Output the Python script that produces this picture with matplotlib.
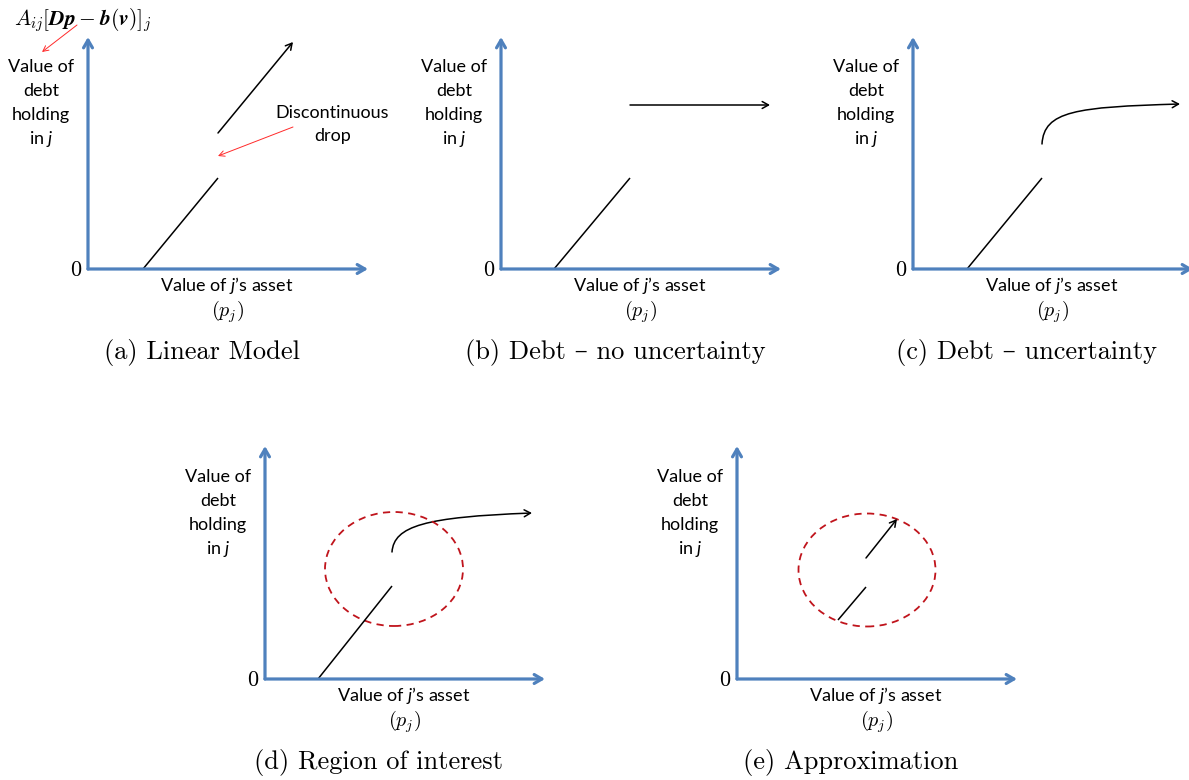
import matplotlib
matplotlib.use("Agg")
import matplotlib.pyplot as plt
from matplotlib.patches import FancyArrowPatch, Ellipse
from matplotlib.path import Path
from matplotlib.transforms import Affine2D, IdentityTransform

# ---------------- data (local units, origin = corner of each small plot, y up) ----
captions = ["(a) Linear Model", "(b) Debt \u2013 no uncertainty", "(c) Debt \u2013 uncertainty",
            "(d) Region of interest", "(e) Approximation"]
ylabel_lines = ["Value of", "debt", "holding", "in $j$"]
xlabel_line1 = "Value of $j$\u2019s asset"
xlabel_line2 = r"$(p_j)$"
zero_label = "0"
formula = r"$A_{ij}[\mathbfit{Dp}-\mathbfit{b}(\mathbfit{v})]_j$"
drop_lines = ["Discontinuous", "drop"]

# axis extents (x length, y length)
axis_x_len = [280, 280, 280, 280, 280]
axis_y_len = [232, 232, 232, 233, 233]

# panel (a)
a_low_x, a_low_y = [55, 130], [0, 91]
a_high_x, a_high_y = [130, 205], [136, 227]
# panel (b)
b_low_x, b_low_y = [53, 129], [0, 91]
b_flat_x, b_flat_y = [129, 269], [164, 164]
# panel (c)  (Bezier control points)
c_low_x, c_low_y = [54, 129], [0, 91]
c_curve_x, c_curve_y = [129, 131, 163, 267], [125, 158, 162, 165]
# panel (d)
d_low_x, d_low_y = [53, 127], [0, 93]
d_curve_x, d_curve_y = [127, 129, 160, 267], [127, 153, 162, 166]
d_roi = (129, 110, 138, 114)  # center x, center y, width, height
# panel (e)
e_low_x, e_low_y = [101, 129], [59, 92]
e_high_x, e_high_y = [129, 160], [121, 160]
e_roi = (130, 109, 137, 113)

# annotation arrows (panel a)
formula_arrow_x, formula_arrow_y = [-11, -46], [244, 217]
drop_arrow_x, drop_arrow_y = [205, 130], [142, 113]

# ---------------- layout ----------------
W, H = 1189, 780
origins = [(88, 269), (501, 269), (913, 269), (265, 679), (737, 679)]

BLUE = "#4f81bd"
RED_DASH = "#c0141c"
RED = "#ff2a2a"
SANS = "Lato"
plt.rcParams["mathtext.fontset"] = "custom"
plt.rcParams["mathtext.rm"] = SANS
plt.rcParams["mathtext.it"] = SANS + ":italic"
plt.rcParams["mathtext.bf"] = SANS + ":bold"

fig = plt.figure(figsize=(W / 100, H / 100), dpi=100)
ax = fig.add_axes([0, 0, 1, 1])
ax.set_xlim(0, W)
ax.set_ylim(H, 0)
ax.axis("off")


def ptrans(i):
    ox, oy = origins[i]
    return Affine2D().scale(1, -1).translate(ox, oy) + ax.transData


def arrow(T, xs, ys, color, lw, hl, hw, style="->"):
    ax.annotate("", xy=(xs[1], ys[1]), xytext=(xs[0], ys[0]), xycoords=T, textcoords=T,
                arrowprops=dict(arrowstyle=f"{style},head_length={hl},head_width={hw}",
                                color=color, lw=lw, shrinkA=0, shrinkB=0,
                                mutation_scale=10))


def line(T, xs, ys):
    ax.plot(xs, ys, color="black", lw=1.1, transform=T, solid_capstyle="butt")


def curve_arrow(T, xs, ys):
    verts = list(zip(xs, ys))
    p = Path(verts, [Path.MOVETO, Path.CURVE4, Path.CURVE4, Path.CURVE4])
    fa = FancyArrowPatch(path=T.transform_path(p), arrowstyle="->,head_length=0.45,head_width=0.25",
                         color="black", lw=1.1, mutation_scale=10)
    fa.set_transform(IdentityTransform())
    ax.add_patch(fa)


for i in range(5):
    T = ptrans(i)
    arrow(T, [0, 0], [0, axis_y_len[i]], BLUE, 2.3, 0.55, 0.32)
    arrow(T, [0, axis_x_len[i]], [0, 0], BLUE, 2.3, 0.55, 0.32)
    ax.text(-12, -1, zero_label, transform=T, ha="center", va="center",
            fontsize=16, family="cmr10")
    for k, s in enumerate(ylabel_lines):
        ax.text(-47, 202 - 24 * k, s, transform=T, ha="center", va="center",
                fontsize=13, family=SANS)
    ax.text(139, -17, xlabel_line1, transform=T, ha="center", va="center",
            fontsize=13, family=SANS)
    ax.text(139, -43, xlabel_line2, transform=T, ha="center", va="center",
            fontsize=14.5, math_fontfamily="cm")
    ax.text(114, -83, captions[i], transform=T, ha="center", va="center",
            fontsize=19, family=["cmr10", "DejaVu Serif"])

# panel a
T = ptrans(0)
line(T, a_low_x, a_low_y)
arrow(T, a_high_x, a_high_y, "black", 1.1, 0.45, 0.25)
ax.text(-5, 249, formula, transform=T, ha="center", va="center", fontsize=15.5,
        math_fontfamily="cm")
arrow(T, formula_arrow_x, formula_arrow_y, RED, 0.7, 0.4, 0.2)
arrow(T, drop_arrow_x, drop_arrow_y, RED, 0.7, 0.4, 0.2)
ax.text(244, 156, drop_lines[0], transform=T, ha="center", va="center", fontsize=13, family=SANS)
ax.text(245, 133, drop_lines[1], transform=T, ha="center", va="center", fontsize=13, family=SANS)

# panel b
T = ptrans(1)
line(T, b_low_x, b_low_y)
arrow(T, b_flat_x, b_flat_y, "black", 1.1, 0.45, 0.25)

# panel c
T = ptrans(2)
line(T, c_low_x, c_low_y)
curve_arrow(T, c_curve_x, c_curve_y)

# panel d
T = ptrans(3)
line(T, d_low_x, d_low_y)
curve_arrow(T, d_curve_x, d_curve_y)
ax.add_patch(Ellipse((d_roi[0], d_roi[1]), d_roi[2], d_roi[3], transform=T, fill=False,
                     edgecolor=RED_DASH, lw=1.3, ls=(0, (4, 3))))

# panel e
T = ptrans(4)
line(T, e_low_x, e_low_y)
arrow(T, e_high_x, e_high_y, "black", 1.1, 0.45, 0.25)
ax.add_patch(Ellipse((e_roi[0], e_roi[1]), e_roi[2], e_roi[3], transform=T, fill=False,
                     edgecolor=RED_DASH, lw=1.3, ls=(0, (4, 3))))

fig.savefig("out.png", dpi=100)
